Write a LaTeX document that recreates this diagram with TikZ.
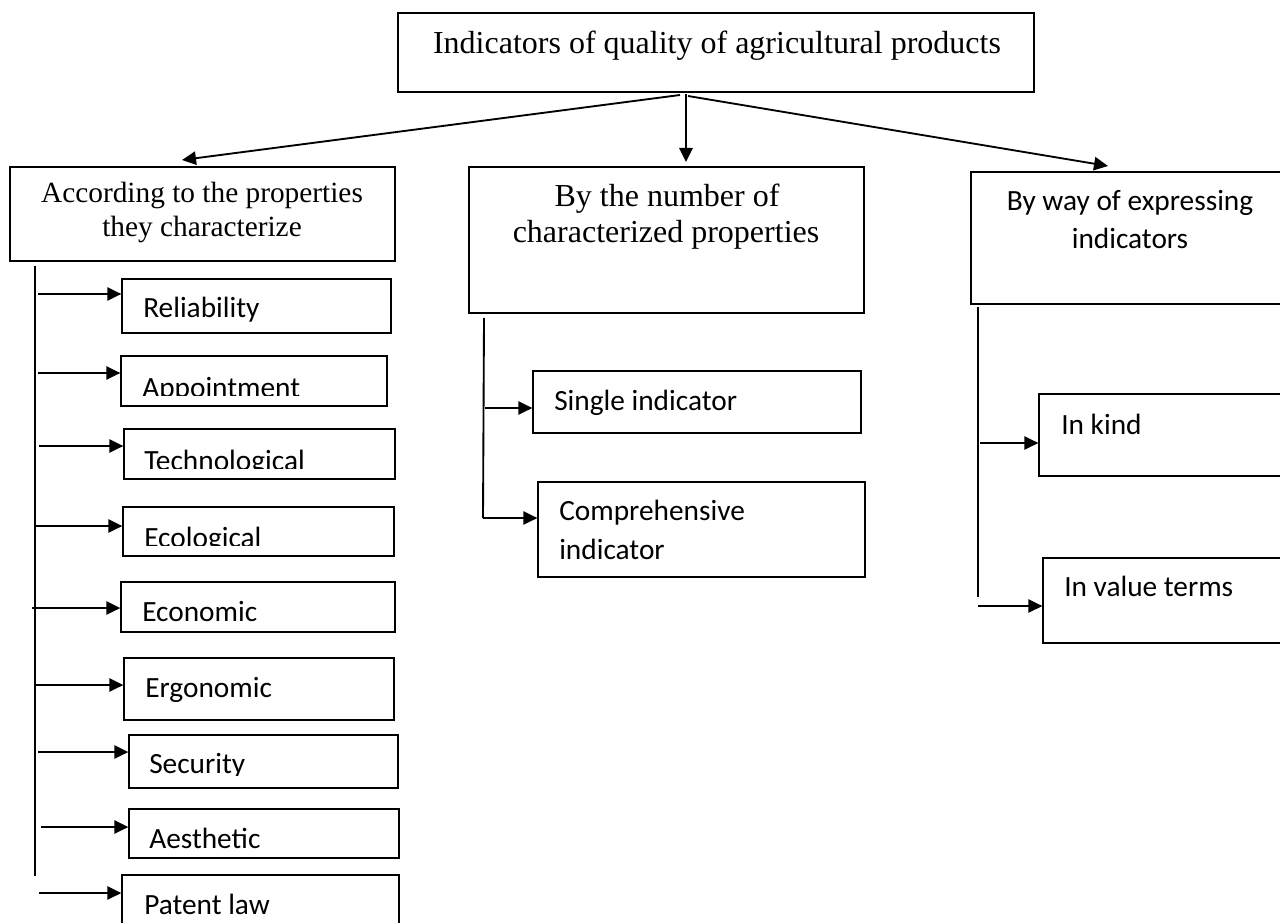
\documentclass[tikz,border=0pt]{standalone}
\usepackage{fontspec}
\setmainfont{Liberation Serif}
\newfontfamily\carl{Carlito}
\usetikzlibrary{arrows.meta,fit}
\begin{document}
\begin{tikzpicture}[x=0.75pt,y=-0.75pt,
  box/.style={draw,line width=1pt,inner sep=0pt,rectangle},
  arr/.style={line width=1.4pt,-{Triangle[length=10.5pt,width=10pt]}},
  spine/.style={line width=1.4pt},
  serifbig/.style={anchor=base,inner sep=0pt,font=\fontsize{24}{28}\selectfont},
  serifmid/.style={anchor=base,inner sep=0pt,font=\fontsize{22}{26}\selectfont},
  sansmid/.style={anchor=base,inner sep=0pt,font=\carl\fontsize{22}{26}\selectfont},
  lbl/.style={anchor=base west,inner sep=0pt,font=\carl\fontsize{22}{26}\selectfont}]
\useasboundingbox (0,0) rectangle (1280,923);
\clip (0,0) rectangle (1280,923);
\fill[white] (0,0) rectangle (1280,923);

% top box
\node[box,line width=1.1pt,fit={(398,13) (1034,92)}] (top) {};
\node[serifbig] (toptxt) at (717,54) {Indicators of quality of agricultural products};

% second level boxes
\node[box,fit={(10,167) (395,261)}] (A) {};
\node[serifmid] (A1) at (202,203) {According to the properties};
\node[serifmid] (A2) at (202,237) {they characterize};

\node[box,fit={(469,167) (864,313)}] (B) {};
\node[serifbig] (B1) at (667,207) {By the number of};
\node[serifbig] (B2) at (666,243) {characterized properties};

\node[box,fit={(971,172) (1290,304)}] (C) {};
\node[sansmid] (C1) at (1130,211) {By way of expressing};
\node[sansmid] (C2) at (1130,249) {indicators};

% arrows from top
\coordinate (o1) at (680,95);
\coordinate (o2) at (686,94);
\coordinate (o3) at (688,96);
\coordinate (tA) at (182,160);
\coordinate (tB) at (686,162);
\coordinate (tC) at (1108,166);
\draw[arr] (o1) -- (tA);
\draw[arr] (o2) -- (tB);
\draw[arr] (o3) -- (tC);

% left column boxes
\node[box,fit={(122,279) (391,333)}] (rel) {};
\node[box,fit={(121,356) (387,406)}] (app) {};
\node[box,fit={(124,429) (395,479)}] (tech) {};
\node[box,fit={(123,507) (394,556)}] (eco) {};
\node[box,fit={(121,582) (395,632)}] (econ) {};
\node[box,fit={(124,658) (394,720)}] (ergo) {};
\node[box,fit={(129,735) (398,788)}] (sec) {};
\node[box,fit={(129,809) (399,858)}] (aes) {};
\node[box,fit={(122,875) (399,940)}] (pat) {};

\begin{scope}\clip (0,0) rectangle (1280,322);
\node[lbl] (relt) at (143,318) {Reliability};\end{scope}
\begin{scope}\clip (0,0) rectangle (1280,395);
\node[lbl] (appt) at (142,397) {Appointment};\end{scope}
\begin{scope}\clip (0,0) rectangle (1280,468);
\node[lbl] (techt) at (144,470) {Technological};\end{scope}
\begin{scope}\clip (0,0) rectangle (1280,545);
\node[lbl] (ecot) at (144,547) {Ecological};\end{scope}
\node[lbl] (econt) at (142,621) {Economic};
\node[lbl] (ergot) at (145,697) {Ergonomic};
\begin{scope}\clip (0,0) rectangle (1280,775);
\node[lbl] (sect) at (149,773) {Security};\end{scope}
\node[lbl] (aest) at (149,848) {Aesthetic};
\node[lbl] (patt) at (144,914) {Patent law};

% left spine
\coordinate (ls1) at (35,266);
\coordinate (ls2) at (35,876);
\draw[spine] (ls1) -- (ls2);
\coordinate (l1) at (38,294);
\coordinate (l2) at (38,373);
\coordinate (l3) at (39,446);
\coordinate (l4) at (36,526);
\coordinate (l5) at (32,608);
\coordinate (l6) at (34,685);
\coordinate (l7) at (38,752);
\coordinate (l8) at (41,827);
\coordinate (l9) at (39,893);
\draw[arr] (l1) -- (l1 -| rel.west);
\draw[arr] (l2) -- (l2 -| app.west);
\draw[arr] (l3) -- (l3 -| tech.west);
\draw[arr] (l4) -- (l4 -| eco.west);
\draw[arr] (l5) -- (l5 -| econ.west);
\draw[arr] (l6) -- (l6 -| ergo.west);
\draw[arr] (l7) -- (l7 -| sec.west);
\draw[arr] (l8) -- (l8 -| aes.west);
\draw[arr] (l9) -- (l9 -| pat.west);

% middle column
\node[box,fit={(533,371) (861,433)}] (single) {};
\node[lbl] (singlet) at (554,410) {Single indicator};
\node[box,fit={(538,482) (865,577)}] (comp) {};
\node[lbl] (compt1) at (559,520) {Comprehensive};
\node[lbl] (compt2) at (559,559) {indicator};
\coordinate (ms1) at (484,318);
\coordinate (ms2) at (483,518);
\draw[spine] (ms1) -- (ms2);
\coordinate (m1) at (485,408);
\draw[arr] (m1) -- (m1 -| single.west);
\draw[arr] (ms2) -- (ms2 -| comp.west);

% right column
\node[box,fit={(1039,394) (1290,476)}] (kind) {};
\node[lbl] (kindt) at (1061,434) {In kind};
\node[box,fit={(1043,558) (1290,643)}] (val) {};
\node[lbl] (valt) at (1064,596) {In value terms};
\coordinate (rs1) at (978,307);
\coordinate (rs2) at (978,597);
\draw[spine] (rs1) -- (rs2);
\coordinate (r1) at (980,443);
\coordinate (r2) at (978,606);
\draw[arr] (r1) -- (r1 -| kind.west);
\draw[arr] (r2) -- (r2 -| val.west);
\end{tikzpicture}
\end{document}
